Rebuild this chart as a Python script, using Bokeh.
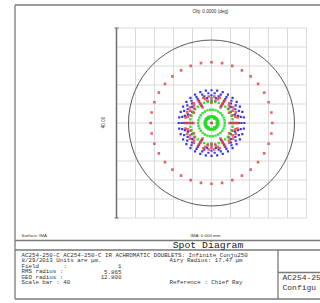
import numpy as np
from bokeh.plotting import figure
from bokeh.models import Label
from bokeh.embed import file_html
from bokeh.resources import INLINE

# ---------------- data ----------------
field_deg = 0.0
airy_radius = 17.47          # um
scale_bar = 40               # um (full grid width)
rms_radius = 5.865
geo_radius = 12.800
grid_ticks = [-20, -16, -12, -8, -4, 0, 4, 8, 12, 16, 20]
ring_points = [1, 6, 12, 18, 24, 30, 36]           # hexapolar rings
blue_radii = [0.0, 4.1, 4.7, 5.3, 5.8, 6.3, 6.9]   # um, per ring
green_radii = [0.0, 1.1, 1.2, 1.3, 1.45, 2.8, 4.5]
red_radii = [0.0, 3.8, 4.3, 4.75, 5.2, 5.6, 12.8]
wave_colors = ["#2323e0", "#22dd22", "#dd4040"]
wave_sizes = [2.2, 2.4, 2.6]
wave_alpha = [0.9, 0.9, 0.8]

# ---------------- layout helpers (picture pixels -> data units) ----------------
W, H = 320, 303
PX = 190 / scale_bar        # pixels per micron
CX, CY = 211.0, 122.5       # position of the spot centre in the picture


def dx(px):
    return (px - CX) / PX


def dy(py):
    return (CY - py) / PX


p = figure(width=W, height=H, x_range=(dx(0), dx(W)), y_range=(dy(H), dy(0)),
           output_backend="svg", toolbar_location=None, min_border=0,
           x_axis_location=None, y_axis_location=None,
           outline_line_color=None, background_fill_color="white",
           border_fill_color="white")
p.xgrid.visible = False
p.ygrid.visible = False

# grid
lo, hi = grid_ticks[0], grid_ticks[-1]
n = len(grid_ticks)
p.segment(x0=grid_ticks, y0=[lo] * n, x1=grid_ticks, y1=[hi] * n,
          line_color="#dadada", line_width=1)
p.segment(x0=[lo] * n, y0=grid_ticks, x1=[hi] * n, y1=grid_ticks,
          line_color="#dadada", line_width=1)

# scale bar on the left
p.segment(x0=[lo], y0=[lo], x1=[lo], y1=[hi], line_color="#6e6e6e", line_width=1.5)
cap = 2.0 / PX
p.segment(x0=[lo - cap, lo - cap], y0=[lo, hi], x1=[lo + cap, lo + cap], y1=[lo, hi],
          line_color="#6e6e6e", line_width=1.2)

# Airy circle
p.circle(x=[0], y=[0], radius=airy_radius, fill_color=None,
         line_color="#5a5a5a", line_width=1)

# spots
for radii, col, sz, al in zip([blue_radii, green_radii, red_radii], wave_colors,
                              wave_sizes, wave_alpha):
    xs, ys = [], []
    for r, k in zip(radii, ring_points):
        ang = 2 * np.pi * np.arange(k) / k
        xs.extend(r * np.cos(ang))
        ys.extend(r * np.sin(ang))
    p.scatter(x=xs, y=ys, marker="square", size=sz, fill_color=col,
              line_color=None, fill_alpha=al)

# frame lines
fc = "#7a7a7a"
frame = [
    (14.5, 4.5, 14.5, 298.5),
    (14.5, 4.5, 320, 4.5),
    (14.5, 298.5, 320, 298.5),
    (14.5, 240, 320, 240),
    (14.5, 249.5, 320, 249.5),
    (277.5, 249.5, 277.5, 298.5),
    (277.5, 272, 320, 272),
]
p.segment(x0=[dx(a) for a, b, c, d in frame], y0=[dy(b) for a, b, c, d in frame],
          x1=[dx(c) for a, b, c, d in frame], y1=[dy(d) for a, b, c, d in frame],
          line_color=fc, line_width=1.3)


def lab(txt, px, py, size, font="Liberation Mono", align="left", angle=0, color="#333333"):
    p.add_layout(Label(x=dx(px), y=dy(py), text=txt, text_font=font,
                       text_font_size=size, text_align=align, text_baseline="middle",
                       angle=angle, text_color=color))


lab(f"Obj: {field_deg:.4f} (deg)", 210, 11, "4.6px", font="Liberation Sans", align="center")
lab(f"{scale_bar:.2f}", 102, 122, "4.6px", font="Liberation Sans", align="center", angle=np.pi / 2)
lab("Surface: IMA", 21, 235, "4.4px", font="Liberation Sans")
lab("IMA: 0.000 mm", 205, 235, "4.4px", font="Liberation Sans", align="center")
lab("Spot Diagram", 207.5, 245, "9.8px", align="center", color="#222222")

fs = "5.8px"
lab("AC254-250-C AC254-250-C IR ACHROMATIC DOUBLETS: Infinite Conju250", 21, 254.5, fs)
lab("8/29/2013  Units are \u00b5m.", 21, 260, fs)
lab(f"Airy Radius: {airy_radius:.2f} \u00b5m", 169, 260, fs)
lab("Field", 21, 265.7, fs)
lab(":", 63, 265.7, fs)
lab("1", 121, 265.7, fs, align="right")
lab("RMS radius :", 21, 271.2, fs)
lab(f"{rms_radius:.3f}", 121, 271.2, fs, align="right")
lab("GEO radius :", 21, 276.7, fs)
lab(f"{geo_radius:.3f}", 121, 276.7, fs, align="right")
lab(f"Scale bar  : {scale_bar}", 21, 282.2, fs)
lab("Reference  : Chief Ray", 169, 282.2, fs)
lab("AC254-25", 282, 277, "8px")
lab("Configu", 282, 287, "8px")

open("out.html", "w").write(file_html(p, INLINE))
